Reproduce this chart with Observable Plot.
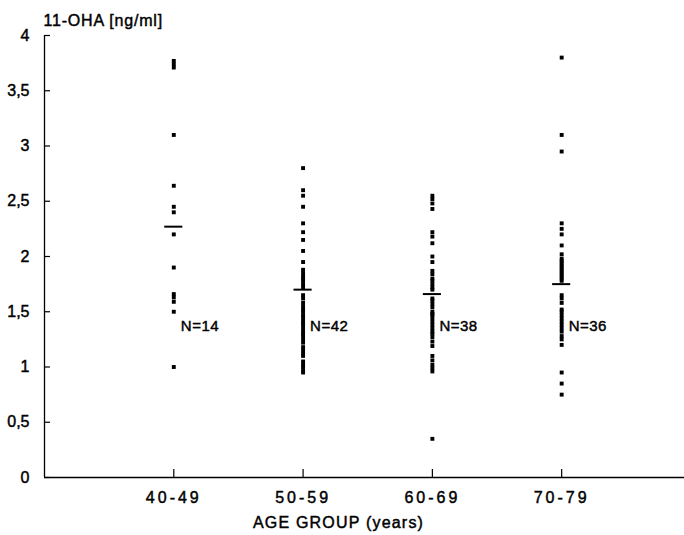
<!DOCTYPE html>
<html>
<head>
<meta charset="utf-8">
<script src="https://cdn.jsdelivr.net/npm/d3@7"></script>
<script src="https://cdn.jsdelivr.net/npm/@observablehq/plot@0.6"></script>
<style>
  html, body { margin: 0; padding: 0; background: #fff; }
  #chart svg { font-family: "Liberation Sans", Arial, sans-serif; }
  #chart svg text { stroke: #000; stroke-width: 0.45px; }
</style>
</head>
<body>
<div id="chart"></div>
<script>
// Age group categories (tick labels)
const groups = ["40-49", "50-59", "60-69", "70-79"];

// 11-OHA values (ng/ml) per age group
const g40 = [3.77, 3.74, 3.71, 3.10, 2.64, 2.45, 2.40, 2.20, 1.90, 1.66, 1.63, 1.59, 1.50, 1.00];
const g50 = [2.80, 2.60, 2.55, 2.45, 2.30, 2.22, 2.15, 2.05, 1.95, 1.88, 1.85, 1.82, 1.80, 1.78,
             1.75, 1.72, 1.65, 1.62, 1.58, 1.55, 1.52, 1.50, 1.47, 1.45, 1.42, 1.40, 1.38, 1.35,
             1.32, 1.30, 1.28, 1.25, 1.22, 1.18, 1.15, 1.12, 1.10, 1.05, 1.02, 1.00, 0.97, 0.95];
const g60 = [2.55, 2.52, 2.48, 2.43, 2.22, 2.18, 2.12, 2.00, 1.95, 1.87, 1.84, 1.80, 1.78, 1.75,
             1.72, 1.70, 1.62, 1.60, 1.57, 1.54, 1.50, 1.48, 1.47, 1.44, 1.41, 1.38, 1.35, 1.32,
             1.30, 1.27, 1.23, 1.19, 1.10, 1.06, 1.02, 0.99, 0.96, 0.35];
const g70 = [3.80, 3.10, 2.95, 2.30, 2.25, 2.20, 2.10, 2.02, 1.98, 1.96, 1.94, 1.92, 1.90, 1.88,
             1.86, 1.84, 1.82, 1.80, 1.78, 1.65, 1.62, 1.58, 1.52, 1.50, 1.47, 1.44, 1.41, 1.38,
             1.35, 1.32, 1.28, 1.25, 1.20, 0.95, 0.85, 0.75];

// Group means (horizontal bars) and sample sizes
const means = [2.27, 1.70, 1.66, 1.75];
const counts = ["N=14", "N=42", "N=38", "N=36"];
const labelY = [1.37, 1.37, 1.37, 1.37];

// Y tick values
const yTicks = [0, 0.5, 1, 1.5, 2, 2.5, 3, 3.5, 4];

// Axis titles
const yTitle = "11-OHA [ng/ml]";
const xTitle = "AGE GROUP (years)";

const series = [g40, g50, g60, g70];
const points = series.flatMap((vals, i) => vals.map(v => ({i: i + 1, v})));
const meanRows = means.map((m, i) => ({i: i + 1, m}));
const labelRows = counts.map((t, i) => ({i: i + 1, t, y: labelY[i]}));

const fmt = d => String(d).replace(".", ",");

const chart = Plot.plot({
  width: 684,
  height: 535,
  marginTop: 35,
  marginBottom: 58,
  marginLeft: 44,
  marginRight: 0,
  style: {fontFamily: "Liberation Sans, Arial, sans-serif", fontSize: "16px", color: "#000", background: "#fff"},
  x: {domain: [0, 4.95], axis: null},
  y: {domain: [0, 4], axis: null},
  marks: [
    // axis lines
    Plot.ruleX([0], {stroke: "#000", strokeWidth: 1.3}),
    Plot.ruleY([0], {stroke: "#000", strokeWidth: 1.5}),
    // y axis: labels
    Plot.axisY({ticks: yTicks, tickFormat: fmt, tickSize: 0, tickPadding: 15, fontSize: 16, label: null}),
    // y axis: inward ticks
    Plot.axisY({ticks: yTicks, text: null, tickSize: 6, dx: 6, strokeWidth: 1.2, label: null}),
    // x axis: labels
    Plot.axisX({ticks: [1, 2, 3, 4], tickFormat: d => groups[d - 1], tickSize: 0, tickPadding: 14,
                fontSize: 16, label: null}),
    // x axis: inward ticks
    Plot.axisX({ticks: [1, 2, 3, 4], text: null, tickSize: 8, dy: -8, strokeWidth: 1.2, label: null}),
    // axis titles
    Plot.text([yTitle], {text: d => d, frameAnchor: "top-left", dy: -21, dx: -1, textAnchor: "start", fontSize: 16, className: "ytitle"}),
    Plot.text([xTitle], {text: d => d, frameAnchor: "bottom", dy: 50, dx: -26, fontSize: 16, className: "xtitle"}),
    // data points
    Plot.dot(points, {x: "i", y: "v", symbol: "square", r: 2.2, fill: "#000", stroke: "none"}),
    // mean bars
    Plot.ruleY(meanRows, {y: "m", x1: d => d.i - 0.07, x2: d => d.i + 0.07, stroke: "#000", strokeWidth: 2}),
    // N labels
    Plot.text(labelRows, {x: "i", y: "y", text: "t", dx: 7, textAnchor: "start", fontSize: 15, className: "nlabel"})
  ]
});
document.getElementById("chart").appendChild(chart);
// typewriter-like letter spacing of the original
d3.select(chart).selectAll('g[aria-label="x-axis tick label"] text').style("letter-spacing", "3px");
d3.select(chart).selectAll('g.xtitle text').style("letter-spacing", "1.2px");
d3.select(chart).selectAll('g.ytitle text').style("letter-spacing", "0.8px");
d3.select(chart).selectAll('g.nlabel text').style("letter-spacing", "0.5px");
</script>
</body>
</html>
